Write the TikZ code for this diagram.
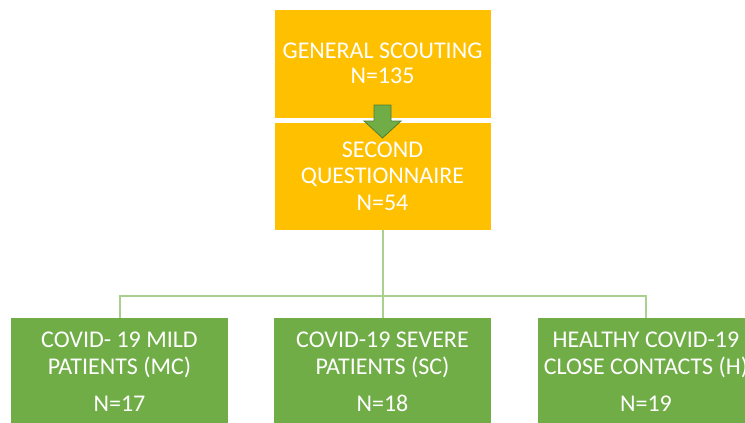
\documentclass[tikz,border=0pt]{standalone}
\usepackage{fontspec}
\setmainfont{Carlito}
\definecolor{orng}{HTML}{FFC000}
\definecolor{grn}{HTML}{70AD47}
\definecolor{lgrn}{HTML}{A9D18E}
\definecolor{dgrn}{HTML}{507E32}
\begin{document}
\begin{tikzpicture}[x=1pt,y=-1pt,
  obox/.style={fill=orng, draw=none, minimum width=216pt, inner sep=0pt},
  gbox/.style={fill=grn, draw=none, minimum width=217pt, minimum height=112pt, inner sep=0pt},
  ttop/.style={text=white, anchor=base, inner sep=0pt, font=\fontsize{24}{24}\selectfont},
  tbot/.style={text=white, anchor=base, inner sep=0pt, font=\fontsize{24}{24}\selectfont},
  conn/.style={draw=lgrn, line width=2pt},
  arr/.style={fill=grn, draw=dgrn, line width=0.8pt}
]
\useasboundingbox (0,0) rectangle (745,423);
\clip (0,0) rectangle (745,423);
\fill[white] (0,0) rectangle (745,423);
% boxes
\node[obox, minimum height=108pt] (gs) at (382.5,64) {};
\node[obox, minimum height=107pt] (qs) at (382.5,176.5) {};
\node[gbox] (mc) at (119.5,374) {};
\node[gbox] (sc) at (382.5,374) {};
\node[gbox] (hc) at (646,374) {};
% connectors
\coordinate (j) at (382.5,296);
\draw[conn] (qs.south) -- (j);
\draw[conn] (mc.north) -- ++(0,-22) -| (hc.north);
\draw[conn] (j) -- (sc.north);
% arrow
\draw[arr] (374,105) -- (391,105) -- (391,121) -- (401,121) -- (382.5,138) -- (364,121) -- (374,121) -- cycle;
% texts
\node[ttop] (gs1) at (382.5,58) {GENERAL SCOUTING};
\node[ttop] (gs2) at (382.5,83) {N=135};
\node[ttop] (qs1) at (382.5,157) {SECOND};
\node[ttop] (qs2) at (382.5,183) {QUESTIONNAIRE};
\node[ttop] (qs3) at (382.5,210) {N=54};
\node[tbot] (mc1) at (119.5,347) {COVID- 19 MILD};
\node[tbot] (mc2) at (119.5,374) {PATIENTS (MC)};
\node[tbot] (mc3) at (119.5,411) {N=17};
\node[tbot] (sc1) at (382.5,347) {COVID-19 SEVERE};
\node[tbot] (sc2) at (382.5,374) {PATIENTS (SC)};
\node[tbot] (sc3) at (382.5,411) {N=18};
\node[tbot] (hc1) at (646,347) {HEALTHY COVID-19};
\node[tbot] (hc2) at (646,374) {CLOSE CONTACTS (H)};
\node[tbot] (hc3) at (646,411) {N=19};
\end{tikzpicture}
\end{document}
